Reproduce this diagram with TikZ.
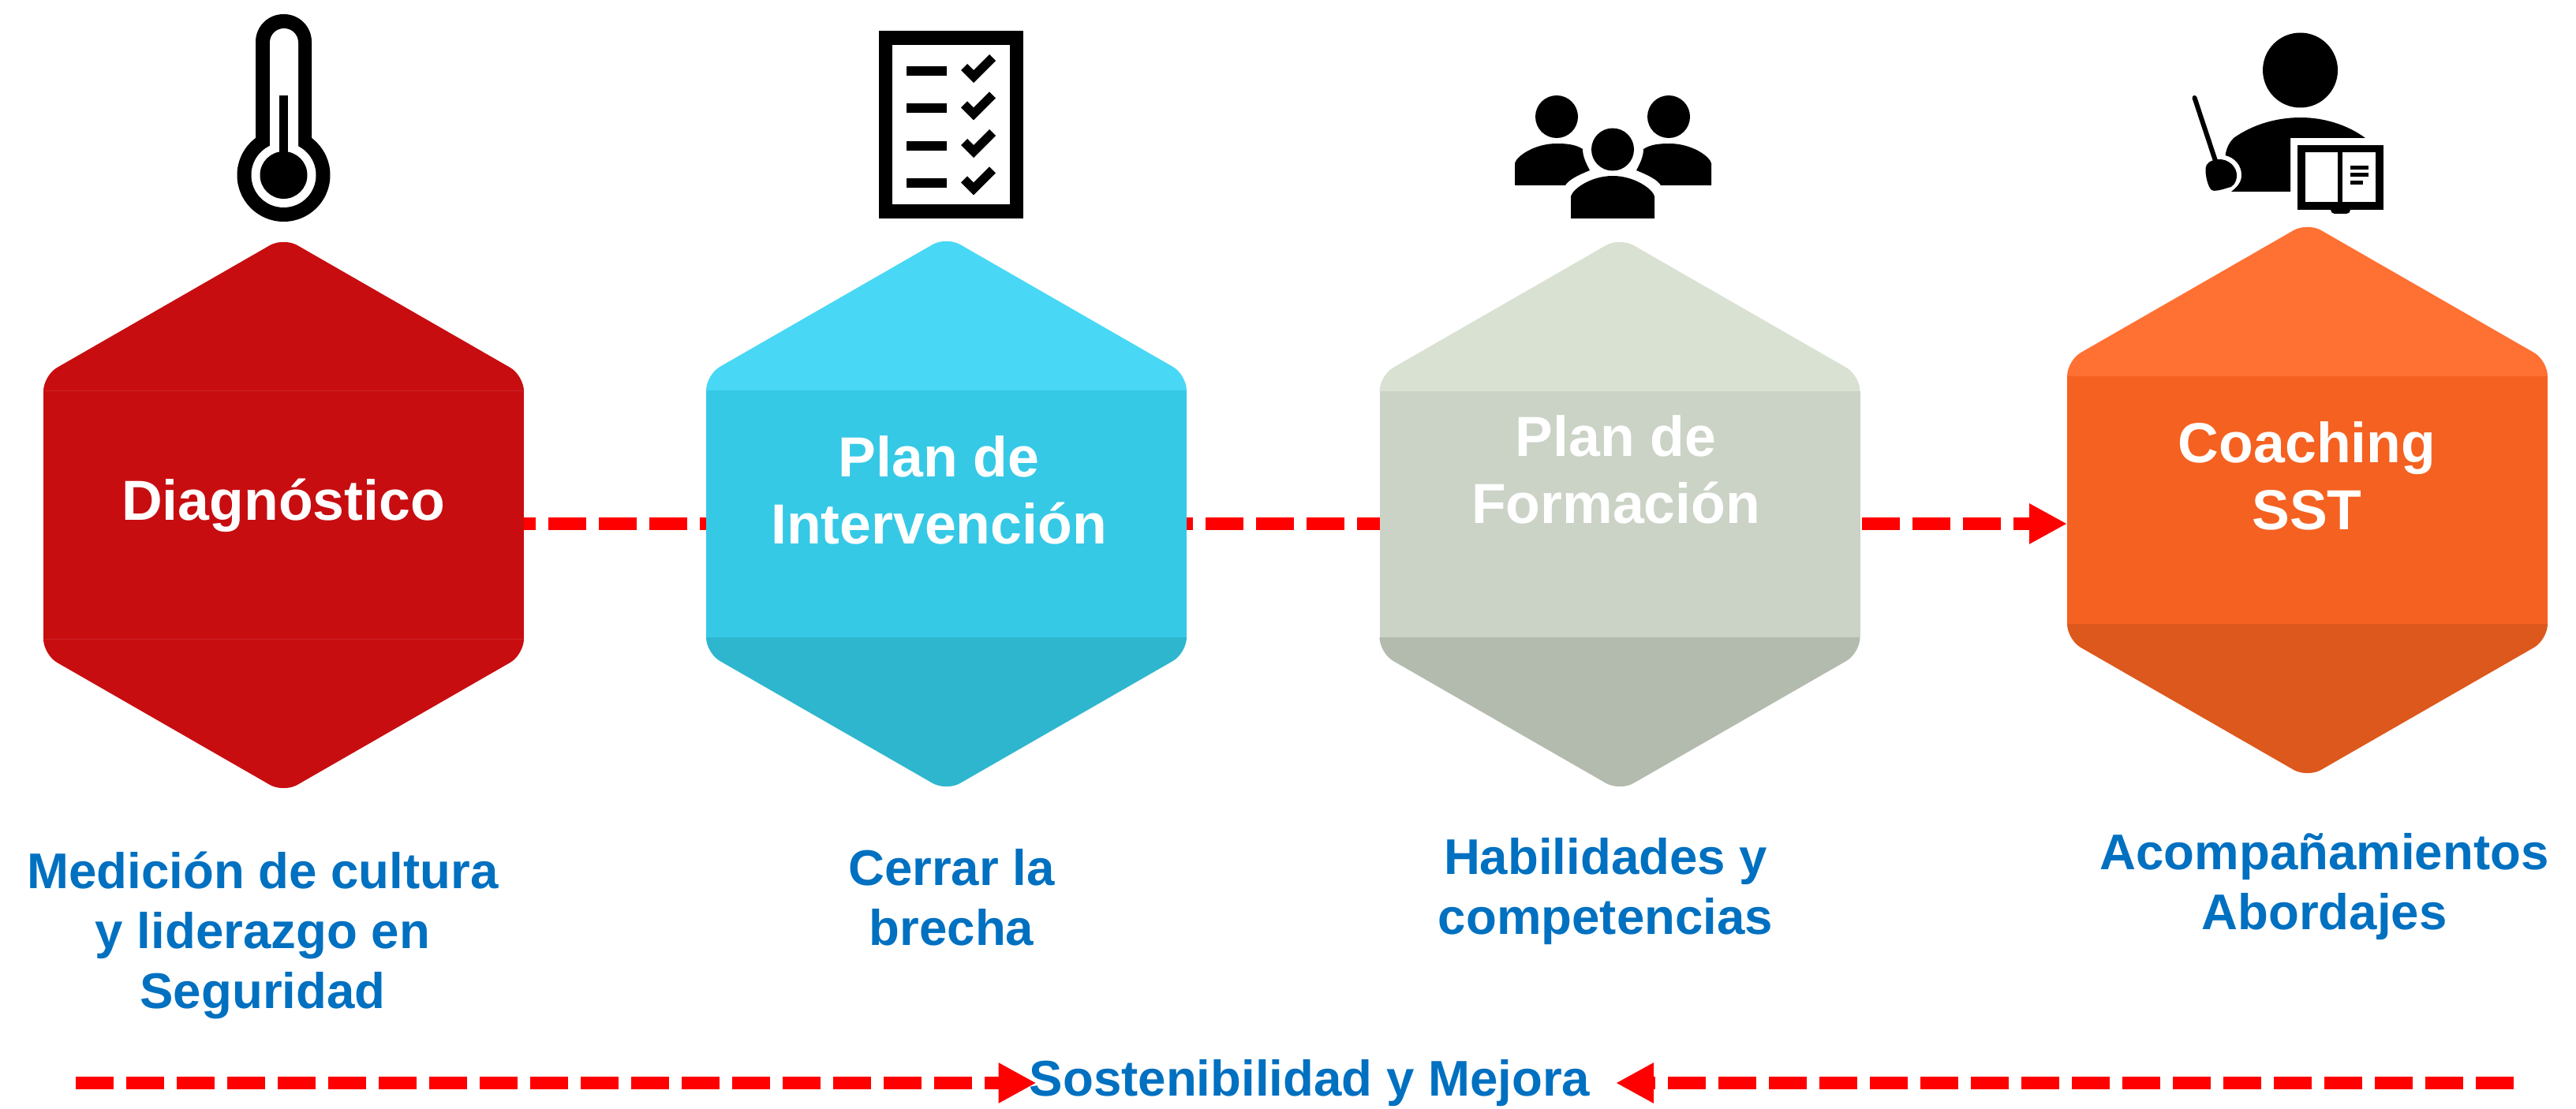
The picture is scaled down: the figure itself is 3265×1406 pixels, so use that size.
\documentclass[tikz,border=0pt]{standalone}
\usepackage{fontspec}
\setmainfont{Liberation Sans}
\usetikzlibrary{arrows.meta}
\definecolor{rojo}{HTML}{C80D10}
\definecolor{rojol}{HTML}{CC2428}
\definecolor{azula}{HTML}{48D8F5}
\definecolor{azulb}{HTML}{36C9E6}
\definecolor{azulc}{HTML}{2FB6CF}
\definecolor{grisa}{HTML}{D9E1D2}
\definecolor{grisb}{HTML}{CBD3C6}
\definecolor{grisc}{HTML}{B3BBAE}
\definecolor{nara}{HTML}{FF7033}
\definecolor{narb}{HTML}{F56120}
\definecolor{narc}{HTML}{DD581C}
\definecolor{textoazul}{HTML}{0070C0}
\definecolor{flecha}{HTML}{FF0000}
\tikzset{
  hexbody/.style={rectangle,inner sep=0pt,outer sep=0pt,minimum width=304.5pt},
  hexlabel/.style={text=white,align=center,inner sep=0pt,font=\fontsize{35.8}{42.5}\selectfont\bfseries},
  caption/.style={text=textoazul,align=center,inner sep=0pt,font=\fontsize{31.8}{38}\selectfont\bfseries},
  redline/.style={draw=flecha,line width=8pt,dash pattern=on 24pt off 8pt},
  redarrow/.style={redline,-{Triangle[length=24pt,width=24pt,fill=flecha]}},
  icon/.style={fill=black,draw=none},
  halo/.style={fill=white,draw=none}
}
\newcommand\hexa[7]{%
  \pgfmathsetmacro\hxmid{(#3+#4)/2}%
  \pgfmathsetmacro\hxh{(#4-#3)*0.5}%
  \fill[#5] (#2-304.5,#3) [rounded corners=10pt] -- (#2-304.5,#3-20) -- (#2,#3-195) -- (#2+304.5,#3-20) [sharp corners] -- (#2+304.5,#3) -- cycle;
  \fill[#7] (#2-304.5,#4) [rounded corners=10pt] -- (#2-304.5,#4+20) -- (#2,#4+195) -- (#2+304.5,#4+20) [sharp corners] -- (#2+304.5,#4) -- cycle;
  \node[hexbody,fill=#6,minimum height=\hxh pt] (#1) at (#2,\hxmid) {};
}
\begin{document}
\begin{tikzpicture}[x=0.5pt,y=-0.5pt]
\useasboundingbox (0,0) rectangle (3265,1406);
% hexagons
\hexa{h1}{359.5}{496}{810}{rojo}{rojo}{rojo}
\hexa{h2}{1199.5}{495}{808}{azula}{azulb}{azulc}
\hexa{h3}{2053}{496}{808}{grisa}{grisb}{grisc}
\hexa{h4}{2924.5}{477}{791}{nara}{narb}{narc}
\draw[rojol,line width=0.5pt] (h1.north west) -- (h1.north east) (h1.south west) -- (h1.south east);
% connectors
\coordinate (nivel) at (0,664);
\draw[redline,dash phase=16.5pt] (h1.east |- nivel) -- (h2.west |- nivel);
\draw[redline,dash phase=20pt] (h2.east |- nivel) -- (h3.west |- nivel);
\draw[redarrow,dash phase=31pt] (h3.east |- nivel) -- (h4.west |- nivel);
% hexagon labels
\node[hexlabel] (l1) at (359,641) {Diagnóstico};
\node[hexlabel] (l2) at (1190,621) {Plan de\\Intervención};
\node[hexlabel] (l3) at (2048,595) {Plan de\\Formación};
\node[hexlabel] (l4) at (2924,603) {Coaching\\SST};
% captions
\node[caption] (c1) at (333,1186) {Medición de cultura\\y liderazgo en\\Seguridad};
\node[caption] (c2) at (1206,1138) {Cerrar la\\brecha};
\node[caption] (c3) at (2035,1130) {Habilidades y\\competencias};
\node[caption] (c4) at (2946,1124) {Acompañamientos\\Abordajes};
% bottom line
\node[caption] (c5) at (1660,1373) {Sostenibilidad y Mejora};
\coordinate (bi) at (96,1373);
\coordinate (bd) at (3186,1373);
\coordinate (pi) at (1313.5,1373);
\coordinate (pd) at (2048,1373);
\draw[redarrow] (bi) -- (pi);
\draw[redarrow] (bd) -- (pd);
% thermometer
\fill[icon] (359.5,222) circle[radius=59];
\fill[icon,rounded corners=17.5pt] (324,230) -- (324,18) -- (395,18) -- (395,230) -- cycle;
\fill[halo] (359.5,222) circle[radius=41];
\fill[halo,rounded corners=9pt] (342,230) -- (342,36) -- (378,36) -- (378,230) -- cycle;
\fill[icon] (359.5,222) circle[radius=30];
\fill[icon] (354,121) rectangle (365,200);
% checklist
\fill[icon] (1113.5,39) rectangle (1297,277);
\fill[halo] (1131,57) rectangle (1280,259);
\foreach \d in {0,47.4,95,142.4}{
  \fill[icon] (1149,84+\d) rectangle (1200,96+\d);
  \fill[icon] (1254,69+\d) -- (1262,77+\d) -- (1234,105+\d) -- (1218,89+\d) -- (1226,81+\d) -- (1234,89+\d) -- cycle;
}
% people
\fill[icon] (1973,148) circle[radius=27];
\fill[icon] (2115,148) circle[radius=27];
\fill[icon] (2044,189.5) circle[radius=27];
\fill[icon] (1920,235) -- (1920,207) .. controls (1922,198) and (1945,182) .. (1973,182) .. controls (1985,182) and (1997,183) .. (2006,189) .. controls (2006,197) and (2009,205) .. (2015,216) .. controls (2000,222) and (1988,228) .. (1984,235) -- cycle;
\fill[icon] (2169,235) -- (2169,207) .. controls (2167,198) and (2144,182) .. (2116,182) .. controls (2104,182) and (2092,183) .. (2083,189) .. controls (2083,197) and (2080,205) .. (2074,216) .. controls (2089,222) and (2101,228) .. (2105,235) -- cycle;
\fill[icon] (1991,277) -- (1991,249) .. controls (1993,240) and (2016,223) .. (2044,223) .. controls (2072,223) and (2095,240) .. (2097,249) -- (2097,277) -- cycle;
% teacher
\fill[icon] (2915.5,89) circle[radius=47.5];
\fill[icon] (2820.5,197) .. controls (2822,187) and (2826,180) .. (2831,175) .. controls (2855,158) and (2885,149) .. (2916,149) .. controls (2945,149) and (2975,158) .. (2998,175) -- (2903,175) -- (2903,243) -- (2828,243) .. controls (2837,236) and (2841,230) .. (2841,222) .. controls (2841,210) and (2833,200) .. (2820.5,197) -- cycle;
\draw[black,line width=3pt,line cap=round] (2781.5,124) -- (2808,204);
\fill[icon] (2811,202) .. controls (2825,201) and (2835,212) .. (2835,222) .. controls (2835,232) and (2829,238) .. (2824,238) .. controls (2815,241) and (2806,243) .. (2803,241) .. controls (2798,236) and (2795,222) .. (2795.5,213) .. controls (2796,207) and (2802,203) .. (2811,202) -- cycle;
\fill[icon,rounded corners=2.5pt] (2954,260) rectangle (2979,271);
\fill[icon] (2912,184) rectangle (3021,266);
\fill[halo] (2921.5,193) rectangle (2963,256);
\fill[halo] (2969,193) rectangle (3011,256);
\fill[icon] (2979,210) rectangle (3002,215);
\fill[icon] (2979,219) rectangle (3002,224);
\fill[icon] (2979,229) rectangle (2994.5,234);
\end{tikzpicture}
\end{document}
